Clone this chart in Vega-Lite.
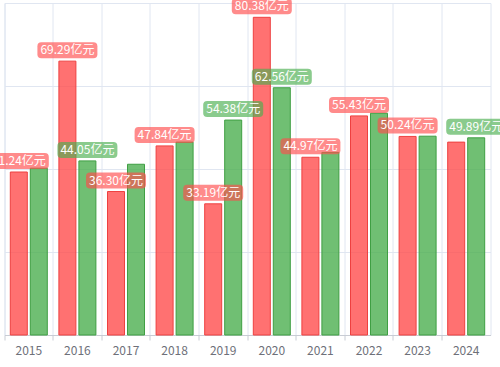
{
  "$schema": "https://vega.github.io/schema/vega-lite/v6.json",
  "width": 486,
  "height": 332,
  "autosize": {"type": "none"},
  "padding": {"left": 4.5, "top": 3, "right": 9.5, "bottom": 32},
  "config": {"view": {"stroke": "#e0e6f1"}, "font": "Noto Sans CJK SC"},
  "data": {
    "values": [
      {"year": "2015", "series": "系列1", "value": 41.24, "show": true},
      {"year": "2015", "series": "系列2", "value": 42.2, "show": false},
      {"year": "2016", "series": "系列1", "value": 69.29, "show": true},
      {"year": "2016", "series": "系列2", "value": 44.05, "show": true},
      {"year": "2017", "series": "系列1", "value": 36.30, "show": true},
      {"year": "2017", "series": "系列2", "value": 43.2, "show": false},
      {"year": "2018", "series": "系列1", "value": 47.84, "show": true},
      {"year": "2018", "series": "系列2", "value": 48.8, "show": false},
      {"year": "2019", "series": "系列1", "value": 33.19, "show": true},
      {"year": "2019", "series": "系列2", "value": 54.38, "show": true},
      {"year": "2020", "series": "系列1", "value": 80.38, "show": true},
      {"year": "2020", "series": "系列2", "value": 62.56, "show": true},
      {"year": "2021", "series": "系列1", "value": 44.97, "show": true},
      {"year": "2021", "series": "系列2", "value": 46.2, "show": false},
      {"year": "2022", "series": "系列1", "value": 55.43, "show": true},
      {"year": "2022", "series": "系列2", "value": 56.1, "show": false},
      {"year": "2023", "series": "系列1", "value": 50.24, "show": true},
      {"year": "2023", "series": "系列2", "value": 50.3, "show": false},
      {"year": "2024", "series": "系列1", "value": 48.8, "show": false},
      {"year": "2024", "series": "系列2", "value": 49.89, "show": true}
    ]
  },
  "transform": [{"calculate": "format(datum.value, '.2f') + '亿元'", "as": "label"}],
  "encoding": {
    "x": {
      "field": "year", "type": "nominal",
      "scale": {"paddingInner": 0, "paddingOuter": 0},
      "axis": {
        "title": null, "labelAngle": 0, "bandPosition": 0,
        "grid": true, "gridColor": "#e0e6f1", "domainColor": "#c8ccd4",
        "tickColor": "#c8ccd4", "tickSize": 5, "labelColor": "#6e7079",
        "labelFontSize": 12, "labelPadding": 5
      }
    },
    "xOffset": {
      "field": "series", "type": "nominal",
      "scale": {"domain": ["系列1", "系列2"], "paddingInner": 0.15, "paddingOuter": 0.29}
    },
    "y": {
      "field": "value", "type": "quantitative",
      "scale": {"domain": [0, 84], "nice": false},
      "axis": {
        "title": null, "values": [0, 21, 42, 63, 84], "labels": false,
        "ticks": false, "domain": false, "grid": true, "gridColor": "#e0e6f1"
      }
    }
  },
  "layer": [
    {
      "mark": {"type": "bar", "fillOpacity": 0.8, "strokeWidth": 1},
      "encoding": {
        "fill": {"field": "series", "type": "nominal", "scale": {"domain": ["系列1", "系列2"], "range": ["#ff4d4d", "#4caf50"]}, "legend": null},
        "stroke": {"field": "series", "type": "nominal", "scale": {"domain": ["系列1", "系列2"], "range": ["#ee4040", "#3f9f43"]}, "legend": null}
      }
    },
    {
      "transform": [{"filter": "datum.show"}],
      "mark": {
        "type": "point",
        "shape": "M-0.867,-0.267 L0.867,-0.267 Q1,-0.267 1,-0.133 L1,0.133 Q1,0.267 0.867,0.267 L-0.867,0.267 Q-1,0.267 -1,0.133 L-1,-0.133 Q-1,-0.267 -0.867,-0.267 Z",
        "size": 3600, "filled": true, "opacity": 0.65, "strokeWidth": 0, "yOffset": -11
      },
      "encoding": {
        "fill": {"field": "series", "type": "nominal", "legend": null}
      }
    },
    {
      "transform": [{"filter": "datum.show"}],
      "mark": {"type": "text", "color": "white", "fontSize": 12, "dy": -11, "baseline": "middle"},
      "encoding": {"text": {"field": "label"}}
    }
  ]
}
